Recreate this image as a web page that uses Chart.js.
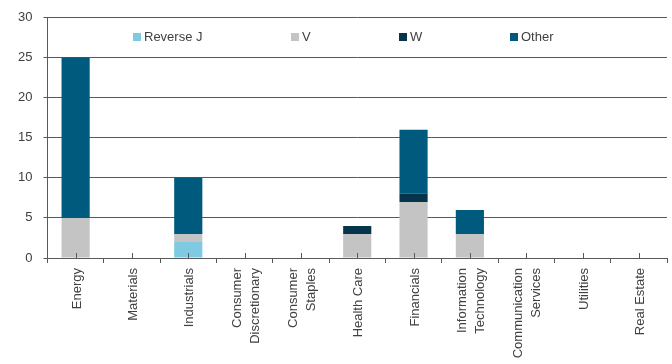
<!DOCTYPE html>
<html lang="en">
<head>
    <meta charset="UTF-8">
    <title>Patterns by sector</title>
    <script src="https://cdn.jsdelivr.net/npm/chart.js"></script>
    <style>
        body {
            margin: 0;
            background-color: #ffffff;
        }
        #chartContainer {
            width: 672px;
            height: 364px;
        }
    </style>
</head>
<body>
    <div id="chartContainer">
        <canvas id="sectorChart"></canvas>
    </div>

    <script>
        // Sectors and counts per pattern
        const sectors = ['Energy', 'Materials', 'Industrials', ['Consumer', 'Discretionary'], ['Consumer', 'Staples'],
            'Health Care', 'Financials', ['Information', 'Technology'], ['Communication', 'Services'], 'Utilities', 'Real Estate'];
        const reverseJ = [0, 0, 2, 0, 0, 0, 0, 0, 0, 0, 0];
        const vShape   = [5, 0, 1, 0, 0, 3, 7, 3, 0, 0, 0];
        const wShape   = [0, 0, 0, 0, 0, 1, 1, 0, 0, 0, 0];
        const other    = [20, 0, 7, 0, 0, 0, 8, 3, 0, 0, 0];
        const yMax = 30;
        const yStep = 5;

        const seriesNames = ['Reverse J', 'V', 'W', 'Other'];
        const seriesColors = ['#7FC9E3', '#C4C4C4', '#06344A', '#005A7D'];
        const legendX = [133, 291, 399, 510]; // where each legend entry starts

        const axisColor = '#595959';
        const textColor = '#404040';
        const fontFamily = '"Liberation Sans", Arial, sans-serif';

        // small ticks at the middle of each category, pointing up into the plot
        const centerTicks = {
            id: 'centerTicks',
            afterDatasetsDraw(chart) {
                const x = chart.scales.x;
                const ctx = chart.ctx;
                ctx.save();
                ctx.strokeStyle = axisColor;
                ctx.lineWidth = 1;
                ctx.beginPath();
                for (let i = 0; i < sectors.length; i++) {
                    const px = Math.round(x.getPixelForValue(i)) + 0.5;
                    ctx.moveTo(px, x.top - 5);
                    ctx.lineTo(px, x.top);
                }
                ctx.stroke();
                ctx.restore();
            }
        };

        // rotated category labels, multi-line ones centred on the category
        const sectorLabels = {
            id: 'sectorLabels',
            afterDraw(chart) {
                const x = chart.scales.x;
                const ctx = chart.ctx;
                const lh = 18;
                ctx.save();
                ctx.font = '13px ' + fontFamily;
                ctx.fillStyle = textColor;
                ctx.textAlign = 'right';
                ctx.textBaseline = 'middle';
                sectors.forEach((label, i) => {
                    const lines = Array.isArray(label) ? label : [label];
                    ctx.save();
                    ctx.translate(x.getPixelForValue(i) + 1.5, x.top + 10);
                    ctx.rotate(-Math.PI / 2);
                    lines.forEach((line, j) => {
                        ctx.fillText(line, 0, (j - (lines.length - 1) / 2) * lh);
                    });
                    ctx.restore();
                });
                ctx.restore();
            }
        };

        // legend drawn inside the plot area, like the original
        const innerLegend = {
            id: 'innerLegend',
            afterDraw(chart) {
                const ctx = chart.ctx;
                ctx.save();
                ctx.font = '13px ' + fontFamily;
                ctx.textBaseline = 'middle';
                seriesNames.forEach((name, i) => {
                    ctx.fillStyle = seriesColors[i];
                    ctx.fillRect(legendX[i], 33, 8, 8);
                    ctx.fillStyle = textColor;
                    ctx.fillText(name, legendX[i] + 11, 37.5);
                });
                ctx.restore();
            }
        };

        const seriesData = [reverseJ, vShape, wShape, other];

        const ctx = document.getElementById('sectorChart').getContext('2d');
        new Chart(ctx, {
            type: 'bar',
            data: {
                labels: sectors,
                datasets: seriesNames.map((name, i) => ({
                    label: name,
                    data: seriesData[i],
                    backgroundColor: seriesColors[i],
                    borderWidth: 0,
                    categoryPercentage: 1.0,
                    barPercentage: 0.5
                }))
            },
            options: {
                responsive: true,
                maintainAspectRatio: false,
                animation: false,
                layout: {
                    padding: { top: 4, right: 5, bottom: 101, left: 7 }
                },
                plugins: {
                    legend: { display: false },
                    tooltip: { enabled: false }
                },
                scales: {
                    x: {
                        stacked: true,
                        border: { display: true, color: axisColor, width: 1 },
                        grid: {
                            offset: true,
                            drawOnChartArea: false,
                            drawTicks: true,
                            tickLength: 5,
                            color: axisColor
                        },
                        ticks: { display: false }
                    },
                    y: {
                        stacked: true,
                        min: 0,
                        max: yMax,
                        border: { display: true, color: axisColor, width: 1 },
                        grid: {
                            color: axisColor,
                            tickLength: 4
                        },
                        ticks: {
                            stepSize: yStep,
                            padding: 11,
                            color: textColor,
                            font: { family: fontFamily, size: 13, lineHeight: 1 }
                        }
                    }
                }
            },
            plugins: [centerTicks, sectorLabels, innerLegend]
        });
    </script>
</body>
</html>
